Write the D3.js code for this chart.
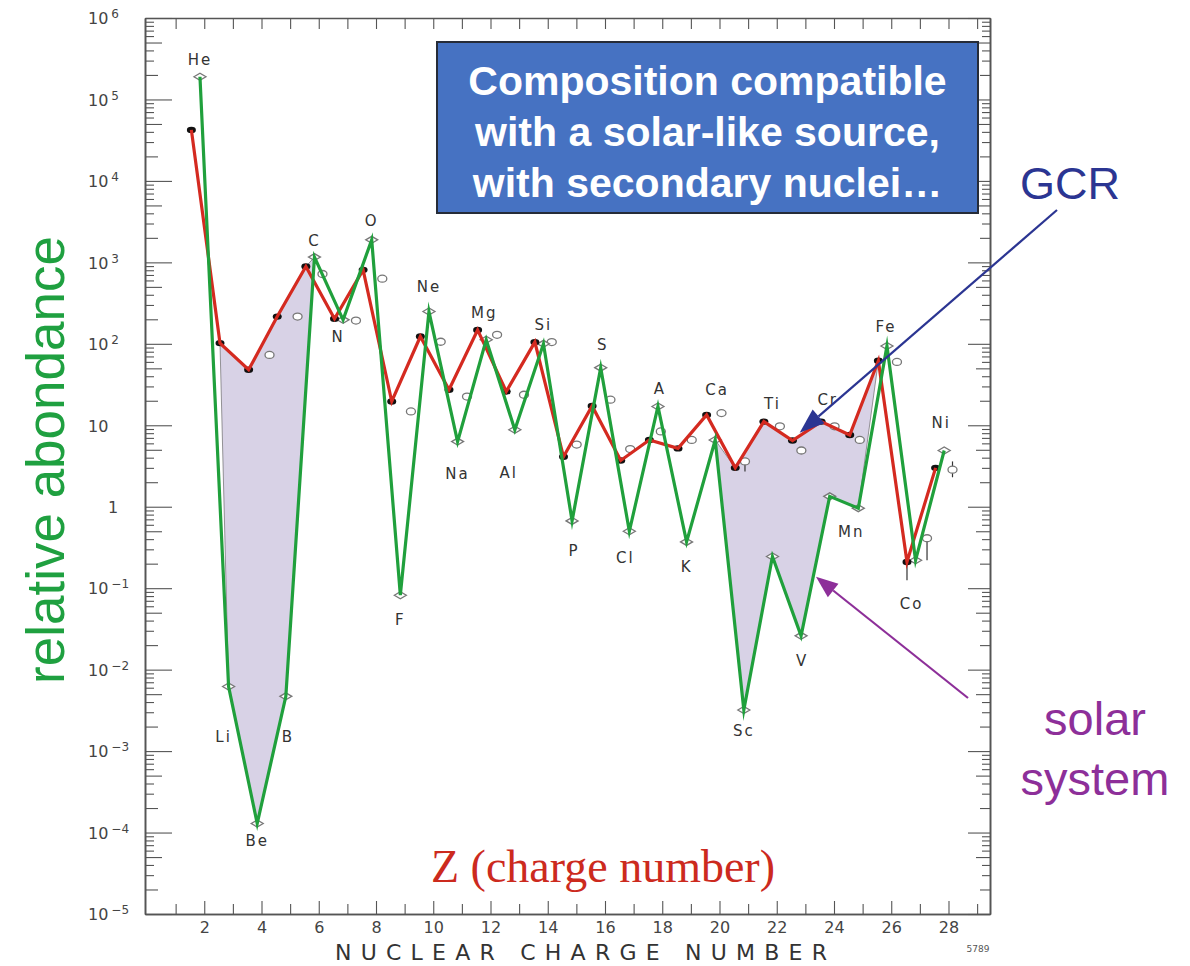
<!DOCTYPE html>
<html>
<head>
<meta charset="utf-8">
<script src="https://cdn.jsdelivr.net/npm/d3@7"></script>
<style>
  body { margin: 0; background: #fff; }
  svg { display: block; }
</style>
</head>
<body>
<div id="chart"></div>
<script>
// element symbols (as printed on the figure) and their charge numbers
const elements = ["He", "Li", "Be", "B", "C", "N", "O", "F", "Ne", "Na", "Mg", "Al", "Si", "P",
    "S", "Cl", "A", "K", "Ca", "Sc", "Ti", "V", "Cr", "Mn", "Fe", "Co", "Ni"];
const charges = [2, 3, 4, 5, 6, 7, 8, 9, 10, 11, 12, 13, 14, 15, 16, 17, 18, 19, 20, 21, 22, 23, 24, 25, 26, 27, 28];

// galactic cosmic rays (red line, black dots)
const gcrAbundance = [42300, 102, 48, 216, 888, 203, 809, 19.6, 123, 27.3, 148, 26, 105, 4.1,
    17.3, 3.7, 6.6, 5.2, 13.4, 3.0, 11.1, 6.5, 11.1, 7.6, 62, 0.21, 3.0];
// solar system (green line, open diamonds)
const solarAbundance = [190000, 0.0062, 0.000129, 0.0047, 1160, 197, 1890, 0.082, 249, 6.3, 112, 8.8, 100, 0.67,
    51, 0.50, 17, 0.37, 6.6, 0.0032, 0.245, 0.026, 1.34, 0.96, 94, 0.22, 4.9];

// other GCR measurements (open circles)
const otherZ = [4.28, 5.26, 6.13, 7.3, 8.22, 9.22, 10.26, 11.18, 12.23, 13.17, 14.14, 15.01, 16.19,
    16.88, 17.95, 19.03, 20.07, 20.89, 22.11, 22.86, 24.02, 24.9, 26.2, 27.25, 28.14];
const otherAbundance = [73, 216, 720, 193, 630, 14.8, 106, 22.5, 129, 23.7, 105, 5.8, 20.6,
    5.1, 8.4, 6.6, 14.1, 3.6, 9.7, 4.9, 9.7, 6.6, 60, 0.41, 2.85];

// error bars
const errorZ = [26.55, 20.89, 27.25, 28.14];
const errorLow = [0.125, 2.7, 0.22, 2.3];
const errorHigh = [0.21, 3.6, 0.41, 3.6];

// axis ticks
const yExponents = [-5, -4, -3, -2, -1, 0, 1, 2, 3, 4, 5, 6];
const xTicks = [1, 2, 3, 4, 5, 6, 7, 8, 9, 10, 11, 12, 13, 14, 15, 16, 17, 18, 19, 20, 21, 22, 23, 24, 25, 26, 27, 28, 29];
const xLabels = [2, 4, 6, 8, 10, 12, 14, 16, 18, 20, 22, 24, 26, 28];

// shaded spans (secondary nuclei): gcr range on top, solar range below
const shadeSpans = [
    { gcr: [3, 6], solar: [3, 6] },
    { gcr: [21, 26], solar: [20, 25] }
];

// label placement relative to the solar point [dx, dy]
const labelOffset = {
    He: [0, -17], Li: [-5, 50], Be: [0, 17], B: [2, 40], C: [0, -17], N: [-5, 17], O: [0, -19],
    F: [0, 24], Ne: [0, -25], Na: [0, 32], Mg: [-2, -27], Al: [-6, 43], Si: [0, -19], P: [2, 30],
    S: [2, -23], Cl: [-4, 26], A: [2, -18], K: [0, 25], Ca: [2, -50], Sc: [0, 21], Ti: [0, -153],
    V: [1, 25], Cr: [-2, -97], Mn: [-7, 23], Fe: [-1, -19], Co: [-4, 43], Ni: [-3, -28]
};

const red = "#d42a20", green = "#20a03c", shade = "#d8d2e6";
const gcrShift = -0.45, solarShift = -0.15;

const width = 1190, height = 966;
const svg = d3.select("#chart").append("svg")
    .attr("width", width)
    .attr("height", height);

const x = d3.scaleLinear().domain([-0.07, 29.45]).range([145, 990]);
const y = d3.scaleLog().domain([1e-5, 1e6]).range([914, 18]);

const gcrPts = charges.map((z, i) => ({ Z: z, z: z + gcrShift, v: gcrAbundance[i] }));
const solarPts = charges.map((z, i) => ({ Z: z, z: z + solarShift, v: solarAbundance[i], name: elements[i] }));
const otherPts = otherZ.map((z, i) => ({ z: z, v: otherAbundance[i] }));

const line = d3.line()
    .x(d => x(d.z))
    .y(d => y(d.v));

// shaded areas between the curves
shadeSpans.forEach(s => {
    const top = gcrPts.filter(p => p.Z >= s.gcr[0] && p.Z <= s.gcr[1]);
    const bottom = solarPts.filter(p => p.Z >= s.solar[0] && p.Z <= s.solar[1]).reverse();
    svg.append("path")
        .attr("d", line(top.concat(bottom)) + "Z")
        .attr("fill", shade)
        .attr("stroke", "#555")
        .attr("stroke-width", 0.6);
});

// axes
const axisColor = "#555";
function styleAxis(g) {
    g.attr("font-family", "DejaVu Sans").attr("font-size", 16);
    g.select(".domain").attr("stroke", axisColor).attr("stroke-width", 1.3);
    g.selectAll(".tick line").attr("stroke", axisColor).attr("stroke-width", 1.1);
    g.selectAll(".tick text").attr("fill", "#444");
}

const decades = yExponents.map(e => Math.pow(10, e));
const minorSets = [
    { m: [5], len: 17 },
    { m: [2], len: 13 },
    { m: [3, 4, 6, 7, 8, 9], len: 9 }
];

const left = x.range()[0], right = x.range()[1];

const yLeft = svg.append("g")
    .attr("transform", `translate(${left},0)`)
    .call(d3.axisLeft(y).tickValues(decades).tickSize(-27).tickSizeOuter(0).tickFormat(() => ""))
    .call(styleAxis);

yLeft.selectAll(".tick text").each(function (d) {
    const t = d3.select(this).attr("text-anchor", "start").attr("x", -57).attr("dy", "0.36em");
    const e = Math.round(Math.log10(d));
    if (e === 0) {
        t.attr("x", -37).text("1");
    } else if (e === 1) {
        t.text("10");
    } else {
        t.append("tspan").text("10");
        t.append("tspan").attr("dx", 3).attr("dy", -6).attr("font-size", 12)
            .text(e < 0 ? "\u2212" + Math.abs(e) : e);
    }
});

svg.append("g")
    .attr("transform", `translate(${right},0)`)
    .call(d3.axisRight(y).tickValues(decades).tickSize(-22).tickSizeOuter(0).tickFormat(() => ""))
    .call(styleAxis);

minorSets.forEach(set => {
    const vals = [];
    yExponents.slice(0, -1).forEach(e => set.m.forEach(m => vals.push(m * Math.pow(10, e))));
    svg.append("g")
        .attr("transform", `translate(${left},0)`)
        .call(d3.axisLeft(y).tickValues(vals).tickSize(-set.len).tickSizeOuter(0).tickFormat(() => ""))
        .call(styleAxis);
    svg.append("g")
        .attr("transform", `translate(${right},0)`)
        .call(d3.axisRight(y).tickValues(vals).tickSize(-Math.max(set.len - 3, 8)).tickSizeOuter(0).tickFormat(() => ""))
        .call(styleAxis);
});

svg.append("g")
    .attr("transform", `translate(0,${y.range()[1]})`)
    .call(d3.axisTop(x).tickValues(xTicks).tickSize(-11).tickSizeOuter(0).tickFormat(() => ""))
    .call(styleAxis);

svg.append("g")
    .attr("transform", `translate(0,${y.range()[0]})`)
    .call(d3.axisBottom(x).tickValues(xTicks.filter(d => !xLabels.includes(d))).tickSize(-10).tickSizeOuter(0).tickFormat(() => ""))
    .call(styleAxis);

svg.append("g")
    .attr("transform", `translate(0,${y.range()[0]})`)
    .call(d3.axisBottom(x).tickValues(xLabels).tickSize(-13).tickSizeOuter(0).tickPadding(8))
    .call(styleAxis);

// error bars
errorZ.forEach((z, i) => {
    svg.append("line")
        .attr("x1", x(z)).attr("x2", x(z))
        .attr("y1", y(errorLow[i])).attr("y2", y(errorHigh[i]))
        .attr("stroke", "#333").attr("stroke-width", 1.2);
});

// markers
svg.append("g").selectAll("ellipse")
    .data(otherPts)
    .enter()
    .append("ellipse")
    .attr("cx", d => x(d.z))
    .attr("cy", d => y(d.v))
    .attr("rx", 4.5)
    .attr("ry", 3.5)
    .attr("fill", "#fff")
    .attr("stroke", "#777")
    .attr("stroke-width", 1.3);

svg.append("g").selectAll("path")
    .data(solarPts)
    .enter()
    .append("path")
    .attr("d", d => {
        const cx = x(d.z), cy = y(d.v);
        return `M${cx - 6},${cy}L${cx},${cy - 3.5}L${cx + 6},${cy}L${cx},${cy + 3.5}Z`;
    })
    .attr("fill", "#fff")
    .attr("stroke", "#777")
    .attr("stroke-width", 1.3);

svg.append("g").selectAll("ellipse")
    .data(gcrPts)
    .enter()
    .append("ellipse")
    .attr("cx", d => x(d.z))
    .attr("cy", d => y(d.v))
    .attr("rx", 4.5)
    .attr("ry", 3.2)
    .attr("fill", "#111");

// lines
svg.append("path")
    .datum(gcrPts)
    .attr("d", line)
    .attr("fill", "none")
    .attr("stroke", red)
    .attr("stroke-width", 3.2)
    .attr("stroke-linejoin", "miter")
    .attr("stroke-miterlimit", 10);

svg.append("path")
    .datum(solarPts)
    .attr("d", line)
    .attr("fill", "none")
    .attr("stroke", green)
    .attr("stroke-width", 3.2)
    .attr("stroke-linejoin", "miter")
    .attr("stroke-miterlimit", 10);

// element labels
svg.append("g").selectAll("text")
    .data(solarPts)
    .enter()
    .append("text")
    .attr("x", d => x(d.z) + labelOffset[d.name][0])
    .attr("y", d => y(d.v) + labelOffset[d.name][1])
    .attr("dy", "0.36em")
    .attr("text-anchor", "middle")
    .attr("font-family", "DejaVu Sans")
    .attr("font-size", 15)
    .attr("letter-spacing", 2)
    .attr("fill", "#333")
    .text(d => d.name);

// axis titles
svg.append("text")
    .attr("x", 581)
    .attr("y", 960)
    .attr("text-anchor", "middle")
    .attr("font-family", "DejaVu Sans")
    .attr("font-size", 22)
    .attr("fill", "#333")
    .attr("textLength", 492)
    .attr("lengthAdjust", "spacing")
    .text("NUCLEAR CHARGE NUMBER");

svg.append("text")
    .attr("x", 978)
    .attr("y", 952)
    .attr("text-anchor", "middle")
    .attr("font-family", "DejaVu Sans")
    .attr("font-size", 9)
    .attr("fill", "#555")
    .text("5789");

svg.append("text")
    .attr("transform", "translate(64,460) rotate(-90)")
    .attr("text-anchor", "middle")
    .attr("font-family", "Liberation Sans")
    .attr("font-size", 53)
    .attr("fill", "#1fa040")
    .text("relative abondance");

svg.append("text")
    .attr("x", 603)
    .attr("y", 882)
    .attr("text-anchor", "middle")
    .attr("font-family", "Liberation Serif")
    .attr("font-size", 46)
    .attr("fill", "#cc2a1e")
    .text("Z (charge number)");

// text box
const box = { x: 437, y: 42, w: 541, h: 171 };
svg.append("rect")
    .attr("x", box.x).attr("y", box.y)
    .attr("width", box.w).attr("height", box.h)
    .attr("fill", "#4672c2")
    .attr("stroke", "#262c38")
    .attr("stroke-width", 2);

const boxLines = ["Composition compatible", "with a solar-like source,", "with secondary nuclei\u2026"];
svg.append("g").selectAll("text")
    .data(boxLines)
    .enter()
    .append("text")
    .attr("x", box.x + box.w / 2)
    .attr("y", (d, i) => box.y + 53 + i * 51)
    .attr("text-anchor", "middle")
    .attr("font-family", "Liberation Sans")
    .attr("font-weight", "bold")
    .attr("font-size", 41)
    .attr("fill", "#fff")
    .text(d => d);

// annotations
function arrow(x1, y1, x2, y2, color, headLen, headW) {
    const a = Math.atan2(y2 - y1, x2 - x1);
    const bx = x2 - headLen * Math.cos(a), by = y2 - headLen * Math.sin(a);
    svg.append("line")
        .attr("x1", x1).attr("y1", y1).attr("x2", bx).attr("y2", by)
        .attr("stroke", color).attr("stroke-width", 2.2);
    const px = -Math.sin(a) * headW / 2, py = Math.cos(a) * headW / 2;
    svg.append("path")
        .attr("d", `M${x2},${y2}L${bx + px},${by + py}L${bx - px},${by - py}Z`)
        .attr("fill", color);
}

const gcrColor = "#2b3592", solarColor = "#8d2f99";
arrow(1057, 210, x(22.8), y(8.1), gcrColor, 25, 18);
arrow(968, 698, x(23.37), y(0.138), solarColor, 22, 17);

svg.append("text")
    .attr("x", 1070).attr("y", 199)
    .attr("text-anchor", "middle")
    .attr("font-family", "Liberation Sans")
    .attr("font-size", 45)
    .attr("fill", gcrColor)
    .text("GCR");

svg.append("g").selectAll("text")
    .data(["solar", "system"])
    .enter()
    .append("text")
    .attr("x", 1095)
    .attr("y", (d, i) => 735 + i * 60)
    .attr("text-anchor", "middle")
    .attr("font-family", "Liberation Sans")
    .attr("font-size", 47)
    .attr("fill", solarColor)
    .text(d => d);
</script>
</body>
</html>
